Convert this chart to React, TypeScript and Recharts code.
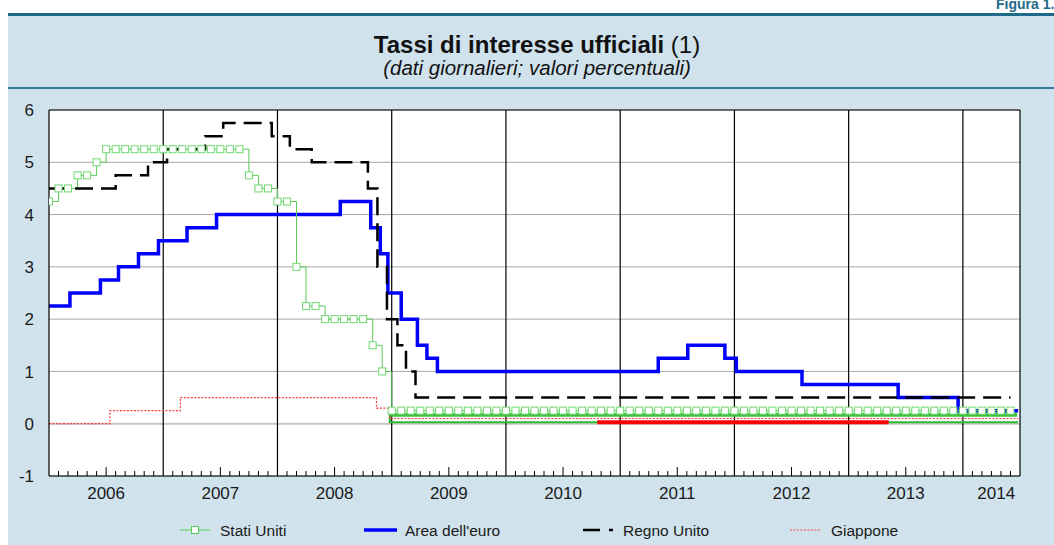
import React from 'react';
import { LineChart, Line, XAxis, YAxis, CartesianGrid, ReferenceLine } from 'recharts';

// months since 1 Jan 2006
const euroMonths = [0, 2.2, 5.4, 7.3, 9.4, 11.5, 14.5, 17.6, 30.6, 33.8, 34.8, 35.6, 37.0, 38.7, 39.7, 40.8, 64.0, 67.1, 71.0, 72.2, 79.1, 89.2, 95.5, 101.8];
const euroRates = [2.25, 2.5, 2.75, 3.0, 3.25, 3.5, 3.75, 4.0, 4.25, 3.75, 3.25, 2.5, 2.0, 1.5, 1.25, 1.0, 1.25, 1.5, 1.25, 1.0, 0.75, 0.5, 0.25, 0.25];

const ukMonths = [0, 7.0, 10.4, 12.4, 16.4, 18.3, 23.4, 25.3, 27.6, 33.5, 34.5, 35.5, 36.6, 37.5, 38.5, 101];
const ukRates = [4.5, 4.75, 5.0, 5.25, 5.5, 5.75, 5.5, 5.25, 5.0, 4.5, 3.0, 2.0, 1.5, 1.0, 0.5, 0.5];

const jpMonths = [0, 6.4, 13.8, 34.4, 35.8, 101.8];
const jpRates = [0, 0.25, 0.5, 0.3, 0.1, 0.1];
const jpRangeMonths = [57.6, 88.2];
const jpRangeLow = [0.03, 0.03];

// US target, monthly (Jan 2006 .. Jun 2014)
const usRates = [
  4.25, 4.5, 4.5, 4.75, 4.75, 5.0, 5.25, 5.25, 5.25, 5.25, 5.25, 5.25,
  5.25, 5.25, 5.25, 5.25, 5.25, 5.25, 5.25, 5.25, 5.25, 4.75, 4.5, 4.5,
  4.25, 4.25, 3.0, 2.25, 2.25, 2.0, 2.0, 2.0, 2.0, 2.0, 1.5, 1.0,
  0.25, 0.25, 0.25, 0.25, 0.25, 0.25, 0.25, 0.25, 0.25, 0.25, 0.25, 0.25,
  0.25, 0.25, 0.25, 0.25, 0.25, 0.25, 0.25, 0.25, 0.25, 0.25, 0.25, 0.25,
  0.25, 0.25, 0.25, 0.25, 0.25, 0.25, 0.25, 0.25, 0.25, 0.25, 0.25, 0.25,
  0.25, 0.25, 0.25, 0.25, 0.25, 0.25, 0.25, 0.25, 0.25, 0.25, 0.25, 0.25,
  0.25, 0.25, 0.25, 0.25, 0.25, 0.25, 0.25, 0.25, 0.25, 0.25, 0.25, 0.25,
  0.25, 0.25, 0.25, 0.25, 0.25, 0.25,
];
const usBandMonths = [35.8, 101.7];
const usBandRates = [0.17, 0.17];
const usLowMonths = [35.8, 35.8, 101.8];
const usLowRates = [0.25, 0.03, 0.03];

const years = ['2006', '2007', '2008', '2009', '2010', '2011', '2012', '2013', '2014'];
const yTicks = [-1, 0, 1, 2, 3, 4, 5, 6];

const pairs = (xs: number[], ys: number[]) => xs.map((x, i) => ({ x, y: ys[i] }));
const euroData = pairs(euroMonths, euroRates);
const ukData = pairs(ukMonths, ukRates);
const jpData = pairs(jpMonths, jpRates);
const jpRangeData = pairs(jpRangeMonths, jpRangeLow);
const usData = usRates.map((y, x) => ({ x, y }));
const usBandData = pairs(usBandMonths, usBandRates);
const usLowData = pairs(usLowMonths, usLowRates);

const monthTicks: number[] = [];
for (let m = 0; m <= 102; m++) monthTicks.push(m);
monthTicks.push(99.5);

const PLOT_BOTTOM = 476;
const FONT = '"Liberation Sans", Arial, sans-serif';

const MonthTick = (props: any) => {
  const { x, payload } = props;
  const v = payload.value as number;
  let mark = null;
  let label = null;
  if (Number.isInteger(v) && v % 12 !== 0 && v < 102) {
    const len = v % 12 === 6 ? 9 : 5;
    mark = <line x1={x} x2={x} y1={PLOT_BOTTOM} y2={PLOT_BOTTOM - len} stroke="#000" strokeWidth={1} />;
  }
  if (Number.isInteger(v) && v % 12 === 6 && v < 96) label = years[(v - 6) / 12];
  if (v === 99.5) label = years[8];
  return (
    <g>
      {mark}
      {label && (
        <text x={x} y={PLOT_BOTTOM + 23} textAnchor="middle" fontSize={17} fill="#1a1a1a" fontFamily={FONT}>
          {label}
        </text>
      )}
    </g>
  );
};

const makeYTick = (ax: number) => (props: any) => (
  <text x={ax} y={props.y} dy="0.36em" textAnchor="end" fontSize={17} fill="#1a1a1a" fontFamily={FONT}>
    {props.payload.value}
  </text>
);

const UsDot = (p: any) => (
  <rect key={'d' + p.index} x={p.cx - 3.5} y={p.cy - 3.5} width={7} height={7} fill="#fff" stroke="#6fd86f" strokeWidth={1} />
);

const Legend = () => (
  <svg width={1054} height={30} style={{ position: 'absolute', left: 0, top: 516 }}>
    <g fontFamily={FONT} fontSize={15.5} fill="#1a1a1a">
      <line x1={180} x2={210} y1={14} y2={14} stroke="#55cc55" strokeWidth={1} />
      <rect x={191.5} y={10.5} width={7} height={7} fill="#fff" stroke="#55cc55" />
      <text x={220} y={19.5}>Stati Uniti</text>
      <line x1={364} x2={397} y1={14} y2={14} stroke="#0000ff" strokeWidth={3.5} />
      <text x={405} y={19.5}>Area dell'euro</text>
      <line x1={583} x2={600} y1={14} y2={14} stroke="#000" strokeWidth={2.5} />
      <line x1={609} x2={613} y1={14} y2={14} stroke="#000" strokeWidth={2.5} />
      <text x={623} y={19.5}>Regno Unito</text>
      <line x1={790} x2={821} y1={14} y2={14} stroke="#ff4040" strokeWidth={1.2} strokeDasharray="2 1.5" />
      <text x={831} y={19.5}>Giappone</text>
    </g>
  </svg>
);

export default function App() {
  return (
    <div style={{ position: 'absolute', left: 0, top: 0, width: 1054, height: 545, background: '#fff', overflow: 'hidden', fontFamily: FONT }}>
      <div style={{ position: 'absolute', left: 8, top: 15, right: 0, bottom: 0, background: '#d0e2ec' }} />
      <div style={{ position: 'absolute', left: 8, top: 13, right: 0, height: 3, background: '#1f6a88' }} />
      <div style={{ position: 'absolute', left: 8, top: 87, right: 0, height: 2, background: '#2f7b9b' }} />
      <div style={{ position: 'absolute', left: 996, top: -4, fontSize: 14, fontWeight: 'bold', color: '#1f6a88', whiteSpace: 'nowrap' }}>
        Figura 1.
      </div>
      <div style={{ position: 'absolute', left: 20, right: 0, top: 31, textAlign: 'center', fontSize: 24, color: '#111' }}>
        <b>Tassi di interesse ufficiali</b> (1)
      </div>
      <div style={{ position: 'absolute', left: 20, right: 0, top: 56, textAlign: 'center', fontSize: 20.5, fontStyle: 'italic', color: '#111' }}>
        (dati giornalieri; valori percentuali)
      </div>
      <div style={{ position: 'absolute', left: 0, top: 0 }}>
        <LineChart width={1054} height={545} margin={{ top: 110, right: 0, bottom: 39, left: 0 }}>
          <CartesianGrid vertical={false} stroke="#a8a8a8" fill="#fff" />
          <XAxis
            dataKey="x"
            type="number"
            domain={[0, 102]}
            allowDataOverflow
            ticks={monthTicks}
            interval={0}
            tickSize={0}
            tickMargin={0}
            tick={<MonthTick />}
            axisLine={{ stroke: '#000', strokeWidth: 1.2 }}
            tickLine={false}
          />
          <YAxis domain={[-1, 6]} ticks={yTicks} interval={0} width={49} tickLine={false} axisLine={{ stroke: '#000', strokeWidth: 1.2 }} tick={makeYTick(34)} />
          <YAxis yAxisId="right" orientation="right" domain={[-1, 6]} ticks={yTicks} interval={0} width={34} tickLine={false} axisLine={{ stroke: '#000', strokeWidth: 1.2 }} tick={makeYTick(1052)} />
          <ReferenceLine y={0} stroke="#c8c8c8" strokeWidth={2} />
          <ReferenceLine y={6} stroke="#000" strokeWidth={1.2} />
          {[12, 24, 36, 48, 60, 72, 84, 96].map((m) => (
            <ReferenceLine key={m} x={m} stroke="#000" strokeWidth={1.2} />
          ))}
          <Line data={usBandData} dataKey="y" type="linear" stroke="#3fbf3f" strokeWidth={4} dot={false} isAnimationActive={false} />
          <Line data={usLowData} dataKey="y" type="linear" stroke="#33b833" strokeWidth={2} dot={false} isAnimationActive={false} />
          <Line data={jpRangeData} dataKey="y" type="linear" stroke="#ff0000" strokeWidth={4} dot={false} isAnimationActive={false} />
          <Line data={euroData} dataKey="y" type="stepAfter" stroke="#0000ff" strokeWidth={3.5} dot={false} isAnimationActive={false} />
          <Line data={usData} dataKey="y" type="stepAfter" stroke="#5acc5a" strokeWidth={1} dot={<UsDot />} isAnimationActive={false} />
          <Line data={ukData} dataKey="y" type="stepAfter" stroke="#000" strokeWidth={2.5} strokeDasharray="18 8" dot={false} isAnimationActive={false} />
          <Line data={jpData} dataKey="y" type="stepAfter" stroke="#ff4040" strokeWidth={1.2} strokeDasharray="2 1.5" dot={false} isAnimationActive={false} />
        </LineChart>
      </div>
      <Legend />
    </div>
  );
}
